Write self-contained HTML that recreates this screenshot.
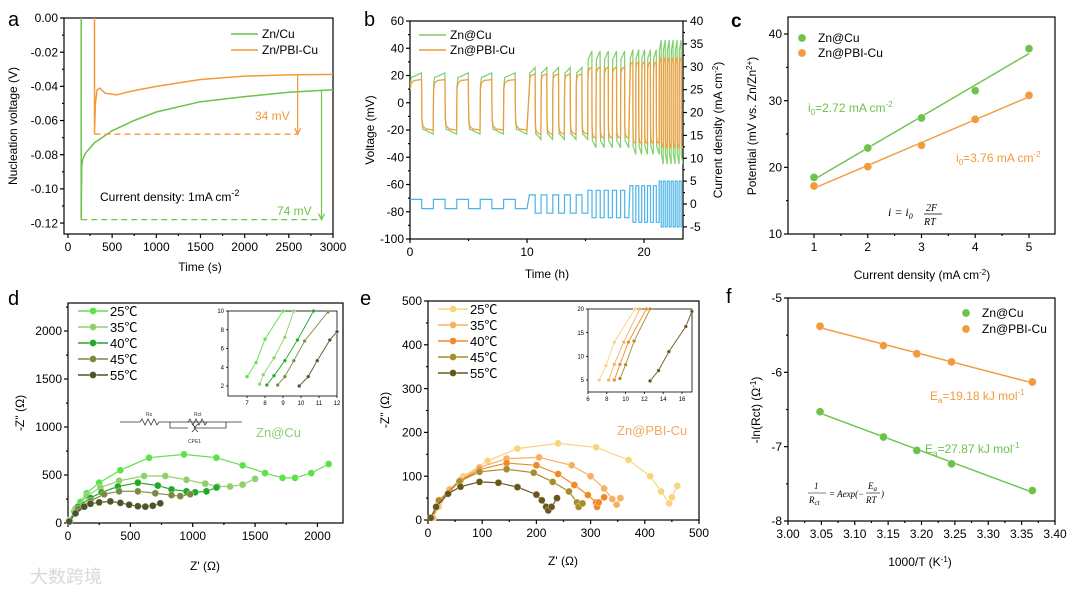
<!DOCTYPE html>
<html><head><meta charset="utf-8"><style>
html,body{margin:0;padding:0;background:#fff;}
svg{display:block;font-family:"Liberation Sans","Noto Sans CJK SC",sans-serif;}
</style></head><body>
<svg id="fig" width="1080" height="594" viewBox="0 0 1080 594" xmlns="http://www.w3.org/2000/svg">
<defs>
<clipPath id="cb"><rect x="410" y="21" width="273" height="218"/></clipPath>
</defs>
<rect x="0" y="0" width="1080" height="594" fill="#fff"/>
<text x="8" y="26" font-size="20">a</text>
<text x="364" y="26" font-size="20">b</text>
<text x="731" y="27" font-size="19" font-weight="bold">c</text>
<text x="8" y="305" font-size="20">d</text>
<text x="360" y="305" font-size="20">e</text>
<text x="726" y="303" font-size="20">f</text>
<text transform="translate(17,126) rotate(-90)" text-anchor="middle" font-size="12">Nucleation voltage (V)</text>
<text x="200" y="271" text-anchor="middle" font-size="12">Time (s)</text>
<text transform="translate(374,130) rotate(-90)" text-anchor="middle" font-size="12">Voltage (mV)</text>
<text transform="translate(722,130) rotate(-90)" text-anchor="middle" font-size="12">Current density (mA cm<tspan dy="-4" font-size="8">-2</tspan><tspan dy="4">)</tspan></text>
<text x="547" y="278" text-anchor="middle" font-size="12">Time (h)</text>
<text transform="translate(756,126) rotate(-90)" text-anchor="middle" font-size="12">Potential (mV vs. Zn/Zn<tspan dy="-4" font-size="8">2+</tspan><tspan dy="4">)</tspan></text>
<text x="922" y="279" text-anchor="middle" font-size="12">Current density (mA cm<tspan dy="-4" font-size="8">-2</tspan><tspan dy="4">)</tspan></text>
<text transform="translate(24,413) rotate(-90)" text-anchor="middle" font-size="12">-Z'' (Ω)</text>
<text x="205" y="570" text-anchor="middle" font-size="12">Z' (Ω)</text>
<text transform="translate(389,410) rotate(-90)" text-anchor="middle" font-size="12">-Z'' (Ω)</text>
<text x="563" y="565" text-anchor="middle" font-size="12">Z' (Ω)</text>
<text transform="translate(760,410) rotate(-90)" text-anchor="middle" font-size="12">-ln(Rct) (Ω<tspan dy="-4" font-size="8">-1</tspan><tspan dy="4">)</tspan></text>
<text x="920" y="566" text-anchor="middle" font-size="12">1000/T (K<tspan dy="-4" font-size="8">-1</tspan><tspan dy="4">)</tspan></text>
<text x="100" y="201" font-size="12">Current density: 1mA cm<tspan dy="-5" font-size="9">-2</tspan></text>
<text x="255" y="120" font-size="12" fill="#f39a3b">34 mV</text>
<text x="277" y="215" font-size="12" fill="#6cc24a">74 mV</text>
<text x="808" y="112" font-size="12" fill="#6cc24a">i<tspan dy="3" font-size="8">0</tspan><tspan dy="-3">=2.72 mA cm</tspan><tspan dy="-5" font-size="8">-2</tspan></text>
<text x="956" y="162" font-size="12" fill="#f39a3b">i<tspan dy="3" font-size="8">0</tspan><tspan dy="-3">=3.76 mA cm</tspan><tspan dy="-5" font-size="8">-2</tspan></text>
<g font-family="Liberation Serif,serif" font-style="italic">
<text x="888" y="216" font-size="12">i = i<tspan font-size="8" dy="3">0</tspan></text>
<text x="926" y="211" font-size="10">2F</text><line x1="924" y1="214" x2="942" y2="214" stroke="#000" stroke-width="0.7"/><text x="924" y="225" font-size="10">RT</text>
</g>
<text x="256" y="437" font-size="13" fill="#8cd070">Zn@Cu</text>
<text x="617" y="435" font-size="13" fill="#f5a860">Zn@PBI-Cu</text>
<text x="930" y="400" font-size="12" fill="#f39a3b">E<tspan dy="3" font-size="8">a</tspan><tspan dy="-3">=19.18 kJ mol</tspan><tspan dy="-5" font-size="8">-1</tspan></text>
<text x="925" y="453" font-size="12" fill="#6cc24a">E<tspan dy="3" font-size="8">a</tspan><tspan dy="-3">=27.87 kJ mol</tspan><tspan dy="-5" font-size="8">-1</tspan></text>
<g font-family="Liberation Serif,serif" font-style="italic" font-size="9">
<text x="814" y="489">1</text><line x1="808" y1="493" x2="826" y2="493" stroke="#000" stroke-width="0.6"/><text x="809" y="503">R<tspan font-size="7" dy="2">ct</tspan></text>
<text x="829" y="497">= Aexp(−</text><text x="868" y="489">E<tspan font-size="7" dy="2">a</tspan></text><line x1="866" y1="493" x2="880" y2="493" stroke="#000" stroke-width="0.6"/><text x="866" y="503">RT</text><text x="881" y="497">)</text>
</g>
<g fill="none" stroke="#333" stroke-width="0.8">
<path d="M120,422 L140,422 l2,-3 l3,6 l3,-6 l3,6 l3,-6 l3,6 l2,-3 L210,422 M170,422 L170,428 L188,428 M192,424 l4,4 l-4,4 M198,424 l-4,4 l4,4 M196,428 L226,428 L226,422 M170,422 L188,422 l2,-3 l3,6 l3,-6 l3,6 l3,-6 l3,6 l2,-3 L242,422"/>
<text x="146" y="416" font-size="5" fill="#333" stroke="none">Rs</text><text x="194" y="416" font-size="5" fill="#333" stroke="none">Rct</text><text x="188" y="443" font-size="5" fill="#333" stroke="none">CPE1</text>
</g>
<text x="30" y="583" font-size="18" fill="#d8d8d8">大数跨境</text>
<g id="marks"></g>
</svg>
<script>
const aCuT=[150,150,155,165,200,300,500,750,1000,1500,2000,2500,3000];
const aCuV=[0,-0.118,-0.087,-0.083,-0.079,-0.073,-0.066,-0.060,-0.055,-0.049,-0.046,-0.0435,-0.042];
const aPbT=[300,300,310,330,360,420,550,700,1000,1500,2000,2500,3000];
const aPbV=[0,-0.068,-0.050,-0.042,-0.041,-0.044,-0.045,-0.043,-0.040,-0.036,-0.034,-0.0333,-0.033];
const bStart=[0,10.2,15.2,18.8,21.3];
const bHalf=[1,0.5,0.35,0.25,0.17];
const bCount=[10,10,10,10,12];
const bCurrent=[1,2,3,4,5];
const bCuPos=[22,26,38,39,46], bCuNeg=[-23,-27,-33,-38,-45];
const bPbPos=[17,21,26,30,33], bPbNeg=[-20,-23,-26,-30,-33];
const cX=[1,2,3,4,5];
const cCu=[18.5,22.9,27.4,31.5,37.8];
const cPb=[17.2,20.1,23.3,27.2,30.8];
const dTemps=['25℃','35℃','40℃','45℃','55℃'];
const dX=[[15,50,100,150,250,420,650,930,1190,1400,1580,1720,1820,1950,2090],
 [10,60,150,260,410,610,780,950,1100,1200,1300,1400,1500],
 [10,80,180,270,400,560,720,830,950,1020,1110,1190],
 [10,80,180,290,410,560,700,830,900,980],
 [10,60,130,180,250,340,420,490,560,620,680,740]];
const dY=[[30,120,220,310,420,550,680,715,680,600,520,470,470,520,615],
 [20,150,280,370,440,490,490,450,410,380,380,400,460],
 [20,170,260,320,380,420,390,350,330,320,330,370],
 [20,150,230,300,330,330,310,290,280,300],
 [15,100,170,200,215,225,210,190,175,170,180,205]];
const diX=[[7,7.5,8,9],[7.7,7.9,8.5,9.1,9.6],[8.1,8.5,9.1,9.8,10.7],[8.7,9.1,9.6,10.2,11.5],[9.9,10.4,10.9,11.6,12]];
const diY=[[3,4.5,7,10],[2.2,3.2,5,7.2,10],[2.1,3.1,4.7,6.9,10],[2.1,3,4.7,6.8,9.9],[2,3,4.7,6.9,7.8]];
const eX=[[10,20,40,65,110,165,240,310,370,410,430,445,450,460],
 [8,20,40,60,95,145,205,265,300,325,340,348,355],
 [8,22,60,95,145,200,240,270,295,310,312,315,325],
 [6,20,58,95,145,195,230,260,275,278,285],
 [5,15,37,60,95,130,165,200,210,218,222,228,238]];
const eY=[[5,30,70,100,135,163,175,166,137,100,65,38,52,78],
 [5,40,70,92,120,140,143,125,100,72,48,35,50],
 [5,45,90,115,130,125,105,80,57,40,30,40,52],
 [5,45,88,110,116,108,87,65,40,30,38],
 [5,30,60,76,87,85,75,58,45,30,22,30,50]];
const eiX=[[7.2,7.9,8.8,11],[8.2,8.8,9.8,11.5],[8.8,9.4,10.3,12.2],[9.4,10,10.9,12.6],[12.6,13.5,14.6,16.4,17.05]];
const eiY=[[5,8,13,20],[5,8.3,13,20],[5,8.3,13,20],[5.3,8.2,13.2,20],[4.8,7,11,16.3,19.5]];
const fX=[3.048,3.143,3.193,3.245,3.366];
const fPb=[-5.38,-5.64,-5.75,-5.86,-6.13];
const fCu=[-6.53,-6.87,-7.05,-7.23,-7.59];

const GREEN='#6cc24a',ORANGE='#f39a3b',BLUE='#4ab4e8';
const dCol=['#5ee04a','#8fd06a','#22a826','#7a8a40','#4a5628'];
const eCol=['#fad47c','#f6b062','#f08a26','#a88c2c','#6a561a'];

const NS='http://www.w3.org/2000/svg';
const root=document.getElementById('marks');
function mk(tag,attrs,name,parent){
 const e=document.createElementNS(NS,tag);
 for(const k in attrs)e.setAttribute(k,attrs[k]);
 
 
 (parent||root).appendChild(e);return e;}
function sc(d,r){return v=>r[0]+(v-d[0])/(d[1]-d[0])*(r[1]-r[0]);}
function axes(o){
 const X=sc(o.xd,[o.L,o.R]),Y=sc(o.yd,[o.B,o.T]);
 const g=mk('g',{},o.name+'-axes');
 const fs=o.fs||12,tl=o.tl||4,sw=o.sw||1.2;
 mk('rect',{x:o.L,y:o.T,width:o.R-o.L,height:o.B-o.T,fill:'none',stroke:'#000','stroke-width':sw},o.name+'-frame',g);
 o.xt.forEach((v,i)=>{const x=X(v);
  mk('line',{x1:x,x2:x,y1:o.B,y2:o.B+tl,stroke:'#000','stroke-width':sw},o.name+'-x-tick',g);
  const t=mk('text',{x:x,y:o.B+tl+fs+1,'text-anchor':'middle','font-size':fs},o.name+'-x-tick-label',g);t.textContent=o.xl[i];});
 (o.xm||[]).forEach(v=>{const x=X(v);mk('line',{x1:x,x2:x,y1:o.B,y2:o.B+tl/2,stroke:'#000','stroke-width':sw},o.name+'-x-minor-tick',g);});
 o.yt.forEach((v,i)=>{const y=Y(v);
  mk('line',{x1:o.L-tl,x2:o.L,y1:y,y2:y,stroke:'#000','stroke-width':sw},o.name+'-y-tick',g);
  const t=mk('text',{x:o.L-tl-2,y:y+fs*0.35,'text-anchor':'end','font-size':fs},o.name+'-y-tick-label',g);t.textContent=o.yl[i];});
 (o.ym||[]).forEach(v=>{const y=Y(v);mk('line',{x1:o.L-tl/2,x2:o.L,y1:y,y2:y,stroke:'#000','stroke-width':sw},o.name+'-y-minor-tick',g);});
 return {X,Y};}
function pth(xs,ys,X,Y){return xs.map((v,i)=>(i?'L':'M')+X(v).toFixed(1)+','+Y(ys[i]).toFixed(1)).join(' ');}
function rng(a,b,s){const r=[];for(let v=a;v<=b+1e-9;v+=s)r.push(+v.toFixed(4));return r;}
function fit(xs,ys){const n=xs.length;let sx=0,sy=0,sxx=0,sxy=0;xs.forEach((x,i)=>{sx+=x;sy+=ys[i];sxx+=x*x;sxy+=x*ys[i];});
 const m=(n*sxy-sx*sy)/(n*sxx-sx*sx);return [m,(sy-m*sx)/n];}
function dot(x,y,r,c,name,g){mk('circle',{cx:x,cy:y,r:r,fill:c,stroke:'#fff','stroke-opacity':0.5,'stroke-width':0.6},name,g);}

(function(){
 const yt=rng(-0.12,0,0.02);
 const A=axes({name:'a',L:64,R:333,T:18,B:234,xd:[-45,3000],yd:[-0.1264,0],
  xt:rng(0,3000,500),xl:['0','500','1000','1500','2000','2500','3000'],xm:rng(250,2750,500),
  yt:yt,yl:yt.map(v=>v.toFixed(2)),ym:rng(-0.11,-0.01,0.02)});
 const g=mk('g',{},'a-series');
 mk('path',{d:pth(aCuT,aCuV,A.X,A.Y),fill:'none',stroke:GREEN,'stroke-width':1.5},'a-zn-cu-line',g);
 mk('path',{d:pth(aPbT,aPbV,A.X,A.Y),fill:'none',stroke:ORANGE,'stroke-width':1.5},'a-zn-pbi-cu-line',g);
 const pm=Math.min(...aPbV), cm=Math.min(...aCuV);
 mk('line',{x1:A.X(aPbT[0]),x2:A.X(2600),y1:A.Y(pm),y2:A.Y(pm),stroke:ORANGE,'stroke-width':1.3,'stroke-dasharray':'6,4'},'a-pbi-dashed-line',g);
 mk('line',{x1:A.X(2600),x2:A.X(2600),y1:A.Y(-0.0333),y2:A.Y(pm)-1,stroke:ORANGE,'stroke-width':1.2},'a-pbi-arrow',g);
 mk('path',{d:`M${A.X(2600)-3},${A.Y(pm)-6} L${A.X(2600)},${A.Y(pm)} L${A.X(2600)+3},${A.Y(pm)-6}`,fill:'none',stroke:ORANGE,'stroke-width':1.2},'a-pbi-arrowhead',g);
 mk('line',{x1:A.X(aCuT[0]),x2:A.X(2870),y1:A.Y(cm),y2:A.Y(cm),stroke:GREEN,'stroke-width':1.3,'stroke-dasharray':'6,4'},'a-cu-dashed-line',g);
 mk('line',{x1:A.X(2870),x2:A.X(2870),y1:A.Y(-0.0425),y2:A.Y(cm)-1,stroke:GREEN,'stroke-width':1.2},'a-cu-arrow',g);
 mk('path',{d:`M${A.X(2870)-3},${A.Y(cm)-6} L${A.X(2870)},${A.Y(cm)} L${A.X(2870)+3},${A.Y(cm)-6}`,fill:'none',stroke:GREEN,'stroke-width':1.2},'a-cu-arrowhead',g);
 const lg=mk('g',{},'a-legend');
 [['Zn/Cu',GREEN],['Zn/PBI-Cu',ORANGE]].forEach((s,i)=>{const y=34+i*16;
  mk('line',{x1:231,x2:258,y1:y,y2:y,stroke:s[1],'stroke-width':1.5},'a-legend-swatch',lg);
  const t=mk('text',{x:262,y:y+4,'font-size':12},'a-legend-entry',lg);t.textContent=s[0];});
})();

(function(){
 const lt=rng(-100,60,20);
 const B=axes({name:'b',L:410,R:683,T:21,B:239,xd:[0,23.33],yd:[-100,60],
  xt:[0,10,20],xl:['0','10','20'],xm:[5,15],
  yt:lt,yl:lt.map(String),ym:rng(-90,50,20)});
 const Y2=sc([-7.65,40],[239,21]);
 const g2=mk('g',{},'b-right-axis');
 rng(-5,40,5).forEach(v=>{const y=Y2(v);
  mk('line',{x1:683,x2:687,y1:y,y2:y,stroke:'#000','stroke-width':1.2},'b-right-tick',g2);
  const t=mk('text',{x:690,y:y+4,'font-size':12},'b-right-tick-label',g2);t.textContent=String(v);});
 rng(-2.5,37.5,5).forEach(v=>{const y=Y2(v);mk('line',{x1:683,x2:685,y1:y,y2:y,stroke:'#000','stroke-width':1.2},'b-right-minor-tick',g2);});
 function wave(pos,neg,spike){const xs=[0],ys=[pos[0]*0.6];
  bStart.forEach((s,k)=>{for(let i=0;i<bCount[k];i++){const t0=s+i*bHalf[k],h=bHalf[k];const a=i%2?neg[k]:pos[k];
   xs.push(t0+0.02*h,t0+0.1*h,t0+0.35*h,t0+0.98*h);ys.push(a*0.55,a*0.85,a*(spike?0.88:0.96),a);}});
  return [xs,ys];}
 const g=mk('g',{'clip-path':'url(#cb)'},'b-series');
 const cu=wave(bCuPos,bCuNeg,true),pb=wave(bPbPos,bPbNeg,false);
 mk('path',{d:pth(cu[0],cu[1],B.X,B.Y),fill:'none',stroke:'#7fcf6a','stroke-width':1.2},'b-zn-cu-line',g);
 mk('path',{d:pth(pb[0],pb[1],B.X,B.Y),fill:'none',stroke:ORANGE,'stroke-width':1.2},'b-zn-pbi-cu-line',g);
 const cx=[],cy=[];
 bStart.forEach((s,k)=>{for(let i=0;i<bCount[k];i++){const t0=s+i*bHalf[k],a=(i%2?-1:1)*bCurrent[k];cx.push(t0,t0+bHalf[k]);cy.push(a,a);}});
 mk('path',{d:pth(cx,cy,B.X,Y2),fill:'none',stroke:BLUE,'stroke-width':1.2},'b-current-line',g);
 const lg=mk('g',{},'b-legend');
 [['Zn@Cu','#7fcf6a'],['Zn@PBI-Cu',ORANGE]].forEach((s,i)=>{const y=35+i*15;
  mk('line',{x1:419,x2:446,y1:y,y2:y,stroke:s[1],'stroke-width':1.5},'b-legend-swatch',lg);
  const t=mk('text',{x:450,y:y+4,'font-size':12},'b-legend-entry',lg);t.textContent=s[0];});
})();

(function(){
 const C=axes({name:'c',L:788,R:1055,T:17,B:234,xd:[0.516,5.484],yd:[10,42.55],
  xt:cX,xl:cX.map(String),xm:[1.5,2.5,3.5,4.5],yt:[10,20,30,40],yl:['10','20','30','40'],ym:[15,25,35]});
 const g=mk('g',{},'c-series');
 [[cCu,GREEN,'zn-cu'],[cPb,ORANGE,'zn-pbi-cu']].forEach(s=>{const [m,b]=fit(cX,s[0]);
  mk('line',{x1:C.X(1),x2:C.X(5),y1:C.Y(m+b),y2:C.Y(5*m+b),stroke:s[1],'stroke-width':1.4},'c-'+s[2]+'-fit',g);
  s[0].forEach((v,i)=>dot(C.X(cX[i]),C.Y(v),4,s[1],'c-'+s[2]+'-point',g));});
 const lg=mk('g',{},'c-legend');
 [['Zn@Cu',GREEN],['Zn@PBI-Cu',ORANGE]].forEach((s,i)=>{const y=38+i*15;
  dot(802,y,4,s[1],'c-legend-marker',lg);
  const t=mk('text',{x:818,y:y+4,'font-size':12},'c-legend-entry',lg);t.textContent=s[0];});
})();

function nyq(p,xs,ys,cols,ixs,iys,o,io){
 const A=axes(o);
 const g=mk('g',{},p+'-series');
 xs.forEach((sx,k)=>{mk('path',{d:pth(sx,ys[k],A.X,A.Y),fill:'none',stroke:cols[k],'stroke-width':1.2},p+'-line-'+k,g);
  sx.forEach((v,i)=>dot(A.X(v),A.Y(ys[k][i]),3.5,cols[k],p+'-point',g));});
 const lg=mk('g',{},p+'-legend');
 dTemps.forEach((t,i)=>{const y=o.T+8+i*16;
  mk('line',{x1:o.L+10,x2:o.L+40,y1:y,y2:y,stroke:cols[i],'stroke-width':1.5},p+'-legend-swatch',lg);
  dot(o.L+25,y,3.5,cols[i],p+'-legend-marker',lg);
  const tx=mk('text',{x:o.L+42,y:y+5,'font-size':13},p+'-legend-entry',lg);tx.textContent=t;});
 mk('rect',{x:io.L,y:io.T,width:io.R-io.L,height:io.B-io.T,fill:'#fff'},p+'-inset-bg');
 const I=axes(io);
 const gi=mk('g',{},p+'-inset-series');
 ixs.forEach((sx,k)=>{mk('path',{d:pth(sx,iys[k],I.X,I.Y),fill:'none',stroke:cols[k],'stroke-width':0.9},p+'-inset-line',gi);
  sx.forEach((v,i)=>dot(I.X(v),I.Y(iys[k][i]),1.8,cols[k],p+'-inset-point',gi));});
}
nyq('d',dX,dY,dCol,diX,diY,
 {name:'d',L:68,R:343,T:303,B:523,xd:[0,2205],yd:[0,2292],xt:[0,500,1000,1500,2000],xl:['0','500','1000','1500','2000'],xm:[250,750,1250,1750],
  yt:[0,500,1000,1500,2000],yl:['0','500','1000','1500','2000'],ym:[250,750,1250,1750,2250]},
 {name:'d-inset',L:228,R:337,T:311,B:396,xd:[5.94,12],yd:[0.93,10],xt:[7,8,9,10,11,12],xl:['7','8','9','10','11','12'],yt:[2,4,6,8,10],yl:['2','4','6','8','10'],fs:6,tl:2,sw:0.8});
nyq('e',eX,eY,eCol,eiX,eiY,
 {name:'e',L:428,R:699,T:301,B:520,xd:[0,500],yd:[0,500],xt:[0,100,200,300,400,500],xl:['0','100','200','300','400','500'],xm:[50,150,250,350,450],
  yt:[0,100,200,300,400,500],yl:['0','100','200','300','400','500'],ym:[50,150,250,350,450]},
 {name:'e-inset',L:588,R:692,T:309,B:392,xd:[6,17.06],yd:[2.46,20],xt:[6,8,10,12,14,16],xl:['6','8','10','12','14','16'],yt:[5,10,15,20],yl:['5','10','15','20'],fs:6,tl:2,sw:0.8});

(function(){
 const xt=rng(3.0,3.4,0.05);
 const F=axes({name:'f',L:788,R:1055,T:298,B:521,xd:[3.0,3.4],yd:[-8,-5],
  xt:xt,xl:xt.map(v=>v.toFixed(2)),xm:rng(3.025,3.375,0.05),yt:[-8,-7,-6,-5],yl:['-8','-7','-6','-5'],ym:[-7.5,-6.5,-5.5]});
 const g=mk('g',{},'f-series');
 [[fCu,GREEN,'zn-cu'],[fPb,ORANGE,'zn-pbi-cu']].forEach(s=>{const [m,b]=fit(fX,s[0]);
  const x0=fX[0],x1=fX[fX.length-1];
  mk('line',{x1:F.X(x0),x2:F.X(x1),y1:F.Y(m*x0+b),y2:F.Y(m*x1+b),stroke:s[1],'stroke-width':1.4},'f-'+s[2]+'-fit',g);
  s[0].forEach((v,i)=>dot(F.X(fX[i]),F.Y(v),4,s[1],'f-'+s[2]+'-point',g));});
 const lg=mk('g',{},'f-legend');
 [['Zn@Cu',GREEN],['Zn@PBI-Cu',ORANGE]].forEach((s,i)=>{const y=313+i*16;
  dot(966,y,4,s[1],'f-legend-marker',lg);
  const t=mk('text',{x:982,y:y+4,'font-size':12},'f-legend-entry',lg);t.textContent=s[0];});
})();
</script>
</body></html>
